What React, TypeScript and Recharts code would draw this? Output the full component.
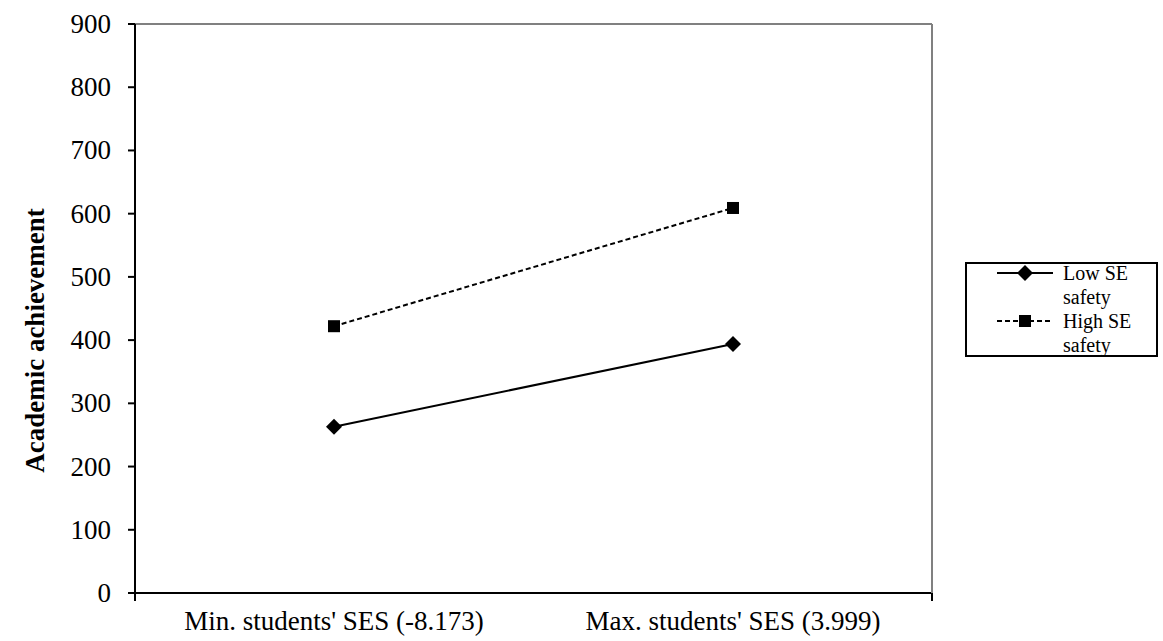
import React from 'react';
import { LineChart, Line, XAxis, YAxis, Legend } from 'recharts';

const categories = ["Min. students' SES (-8.173)", "Max. students' SES (3.999)"];
const lowSE = [263, 394];
const highSE = [422, 609];
const yTicks = [0, 100, 200, 300, 400, 500, 600, 700, 800, 900];
const edgeTicks = [0, 1, 2];
const seriesKeys = ['low', 'high'];
const seriesNames = ['Low SE safety', 'High SE safety'];

const data = categories.map((c, i) => ({ cat: c, low: lowSE[i], high: highSE[i] }));

const FONT = '"Liberation Serif", "Times New Roman", Times, serif';

const Diamond = (props: any) => {
  const { cx, cy } = props;
  if (cx == null || cy == null) return null;
  const r = 8;
  return <polygon points={`${cx},${cy - r} ${cx + r},${cy} ${cx},${cy + r} ${cx - r},${cy}`} fill="#000" />;
};

const Square = (props: any) => {
  const { cx, cy } = props;
  if (cx == null || cy == null) return null;
  const s = 12;
  return <rect x={cx - s / 2} y={cy - s / 2} width={s} height={s} fill="#000" />;
};

const YTick = (props: any) => {
  const { x, y, payload } = props;
  return (
    <text x={x} y={y} textAnchor="end" dominantBaseline="central" style={{ fontFamily: FONT, fontSize: 27 }} fill="#000">
      {payload.value}
    </text>
  );
};

const XTick = (props: any) => {
  const { x, y, payload } = props;
  return (
    <text x={x} y={y} textAnchor="middle" dy="0.78em" style={{ fontFamily: FONT, fontSize: 27 }} fill="#000">
      {payload.value}
    </text>
  );
};

const LegendBox = (props: any) => {
  const payload = [...(props.payload || [])].sort(
    (a: any, b: any) => seriesKeys.indexOf(a.dataKey) - seriesKeys.indexOf(b.dataKey)
  );
  return (
    <div
      style={{
        border: '2px solid #000',
        boxSizing: 'border-box',
        width: 193,
        height: 95,
        background: '#fff',
        fontFamily: FONT,
        fontSize: 20,
        color: '#000',
        overflow: 'visible',
      }}
    >
      <div style={{ marginTop: -3 }}>
        {payload.map((entry: any, i: number) => {
          const dashed = entry.dataKey === 'high';
          return (
            <div key={i} style={{ display: 'flex', alignItems: 'flex-start' }}>
              <svg width={88} height={24} style={{ flex: 'none' }}>
                <line x1={30} x2={86} y1={12} y2={12} stroke="#000" strokeWidth={2} strokeDasharray={dashed ? '5 3' : undefined} />
                {dashed ? (
                  <rect x={52} y={6} width={12} height={12} fill="#000" />
                ) : (
                  <polygon points="58,4 66,12 58,20 50,12" fill="#000" />
                )}
              </svg>
              <div style={{ width: 90, lineHeight: '24px', paddingLeft: 8 }}>{entry.value}</div>
            </div>
          );
        })}
      </div>
    </div>
  );
};

export default function App() {
  return (
    <div style={{ position: 'absolute', left: 0, top: 0, background: '#fff', fontFamily: FONT }}>
      <LineChart width={1163} height={641} data={data} margin={{ top: 23, right: 230, bottom: 0, left: 0 }} style={{ fontFamily: FONT }}>
        <XAxis
          xAxisId="b"
          dataKey="cat"
          type="category"
          height={47}
          padding={{ left: 199, right: 199 }}
          axisLine={false}
          tickLine={false}
          tickSize={8}
          tickMargin={7}
          interval={0}
          tick={<XTick />}
        />
        <XAxis
          xAxisId="a"
          type="number"
          domain={[0, 2]}
          allowDataOverflow
          ticks={edgeTicks}
          height={1}
          tickSize={8}
          tickFormatter={() => ''}
          axisLine={{ stroke: '#000', strokeWidth: 2 }}
          tickLine={{ stroke: '#000', strokeWidth: 2 }}
        />
        <XAxis
          xAxisId="top"
          orientation="top"
          type="number"
          domain={[0, 2]}
          allowDataOverflow
          height={1}
          tick={false}
          tickLine={false}
          axisLine={{ stroke: '#808080', strokeWidth: 2 }}
        />
        <YAxis
          yAxisId="left"
          type="number"
          domain={[0, 900]}
          ticks={yTicks}
          width={135}
          tickSize={7}
          tickMargin={17}
          axisLine={{ stroke: '#000', strokeWidth: 2 }}
          tickLine={{ stroke: '#000', strokeWidth: 2 }}
          tick={<YTick />}
          label={{
            content: (p: any) => {
              const vb = p.viewBox || {};
              const x = (vb.x || 0) + 35;
              const y = (vb.y || 0) + (vb.height || 0) / 2 + 32;
              return (
                <text
                  x={x}
                  y={y}
                  transform={`rotate(-90, ${x}, ${y})`}
                  textAnchor="middle"
                  dominantBaseline="central"
                  style={{ fontFamily: FONT, fontSize: 27, fontWeight: 'bold' }}
                  fill="#000"
                >
                  Academic achievement
                </text>
              );
            },
          }}
        />
        <YAxis
          yAxisId="right"
          orientation="right"
          type="number"
          domain={[0, 900]}
          allowDataOverflow
          width={1}
          tick={false}
          tickLine={false}
          axisLine={{ stroke: '#808080', strokeWidth: 2 }}
        />
        <Legend
          layout="horizontal"
          verticalAlign="middle"
          align="center"
          content={<LegendBox />}
          wrapperStyle={{ left: 965, top: 262, right: 'auto', bottom: 'auto', width: 193, height: 95 }}
        />
        <Line
          xAxisId="b"
          yAxisId="left"
          dataKey="low"
          name={seriesNames[0]}
          stroke="#000"
          strokeWidth={2}
          dot={<Diamond />}
          activeDot={false}
          isAnimationActive={false}
        />
        <Line
          xAxisId="b"
          yAxisId="left"
          dataKey="high"
          name={seriesNames[1]}
          stroke="#000"
          strokeWidth={2}
          strokeDasharray="5 3"
          dot={<Square />}
          activeDot={false}
          isAnimationActive={false}
        />
      </LineChart>
    </div>
  );
}
